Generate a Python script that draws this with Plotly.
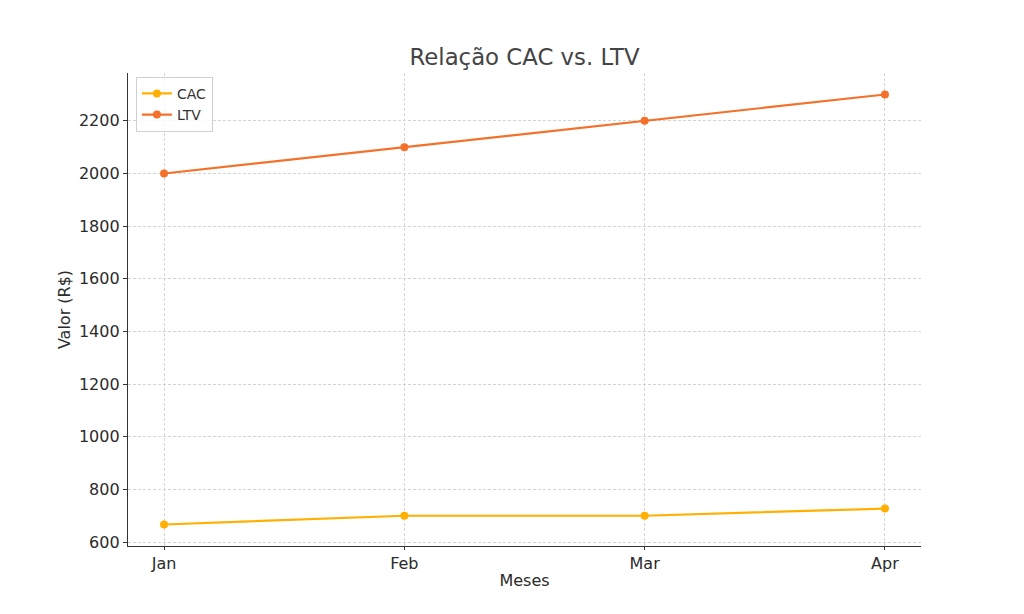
import plotly.graph_objects as go

months = ["Jan", "Feb", "Mar", "Apr"]
cac = [666.67, 700, 700, 727.27]
ltv = [2000, 2100, 2200, 2300]
y_ticks = [600, 800, 1000, 1200, 1400, 1600, 1800, 2000, 2200]

fig = go.Figure()
fig.add_trace(go.Scatter(x=[0, 1, 2, 3], y=cac, mode="lines+markers", name="CAC",
                         line=dict(color="#FFB000", width=2.2), marker=dict(size=8, color="#FFB000")))
fig.add_trace(go.Scatter(x=[0, 1, 2, 3], y=ltv, mode="lines+markers", name="LTV",
                         line=dict(color="#F4712B", width=2.2), marker=dict(size=8, color="#F4712B")))

font_family = "DejaVu Sans, sans-serif"
grid = dict(showgrid=True, gridcolor="#d4d4d4", griddash="3px,2px", gridwidth=0.8)
fig.update_layout(
    width=1024, height=614,
    margin=dict(l=128, r=103, t=73, b=68),
    paper_bgcolor="white", plot_bgcolor="white",
    font=dict(family=font_family, color="#2b2b2b"),
    title=dict(text="Relação CAC vs. LTV", xref="paper", x=0.5, xanchor="center", y=0.907, yanchor="middle",
               font=dict(size=22.8, color="#444444")),
    showlegend=True,
    legend=dict(x=0.01, y=0.992, xanchor="left", yanchor="top", bgcolor="rgba(255,255,255,0.8)",
                bordercolor="#d0d0d0", borderwidth=1, font=dict(size=14, color="#333333"),
                itemwidth=30, tracegroupgap=2),
)
fig.update_xaxes(
    range=[-0.15, 3.15], tickvals=[0, 1, 2, 3], ticktext=months,
    showline=True, linecolor="#333333", linewidth=1.3, mirror=False,
    ticks="outside", ticklen=3, tickcolor="#333333",
    zeroline=False, tickfont=dict(size=16, color="#2b2b2b"),
    title=dict(text="Meses", font=dict(size=16, color="#2b2b2b"), standoff=2),
    **grid,
)
fig.update_yaxes(
    range=[585, 2381.7], tickvals=y_ticks,
    showline=True, linecolor="#333333", linewidth=1.3, mirror=False,
    ticks="outside", ticklen=4, tickcolor="#333333",
    zeroline=False, tickfont=dict(size=16, color="#2b2b2b"),
    title=dict(text="Valor (R$)", font=dict(size=16, color="#2b2b2b"), standoff=4),
    **grid,
)

fig.write_html("out.html")
